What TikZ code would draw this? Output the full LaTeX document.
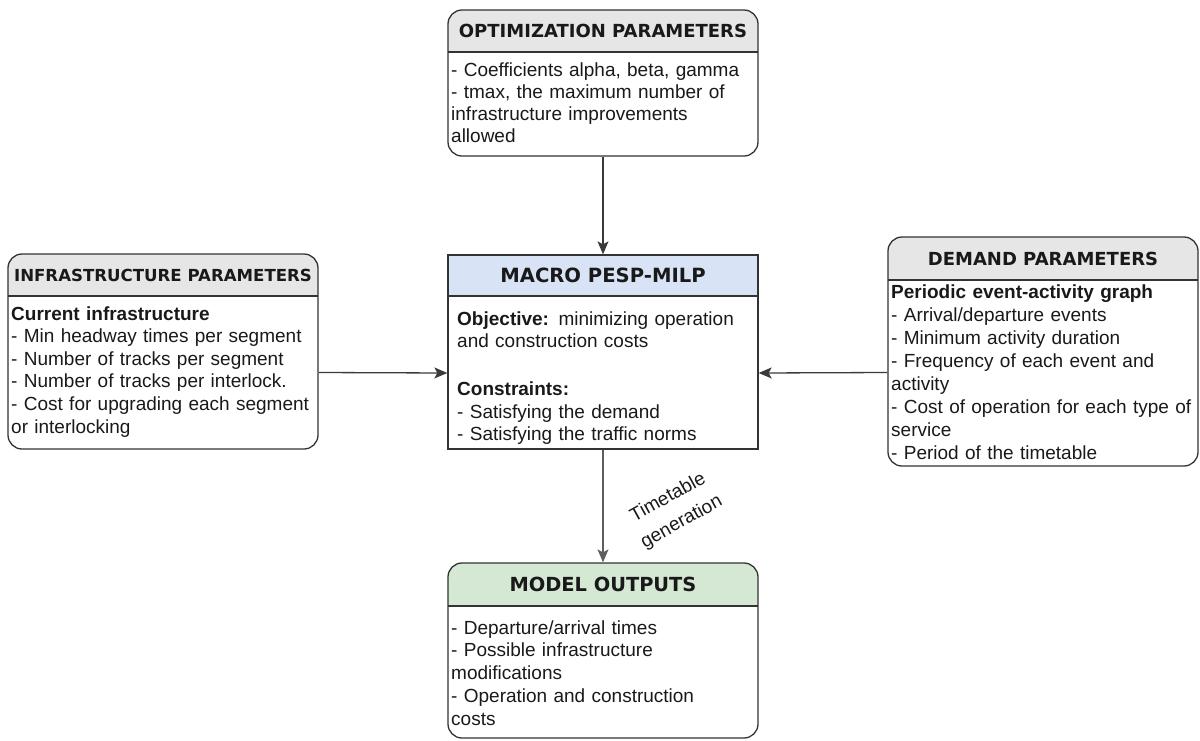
\documentclass[tikz,border=0pt]{standalone}
\usepackage{fontspec}
\setmainfont{Liberation Sans}
\newfontfamily\headfont{DejaVu Sans}
\usetikzlibrary{arrows.meta}
\definecolor{linec}{HTML}{333333}
\definecolor{arrc}{HTML}{3A3A3A}
\definecolor{arrlow}{HTML}{5E5E5E}
\definecolor{hdrgray}{HTML}{E6E6E6}
\definecolor{hdrblue}{HTML}{D8E4F6}
\definecolor{hdrgreen}{HTML}{D5E8D4}
\begin{document}
\begin{tikzpicture}[x=1pt,y=-1pt,
  panel/.style={draw=linec, line width=1.3pt, rounded corners=14pt,
    minimum width=310pt, inner sep=0pt},
  flatpanel/.style={panel, sharp corners},
  sep/.style={draw=linec, line width=1.3pt},
  hdr/.style={font=\headfont\bfseries\fontsize{#1}{22}\selectfont,
    anchor=base, inner sep=0pt, text=black!90},
  hdr/.default=18,
  body/.style={font=\fontsize{19}{#1}\selectfont, anchor=base west,
    text width=330pt, align=left, inner sep=0pt, text=black!90},
  body/.default=22.4,
  arr/.style={draw=arrc, line width=1.3pt,
    -{Stealth[length=13pt,width=11pt,inset=3pt]}},
  lbl/.style={font=\fontsize{19}{28}\selectfont, align=center,
    inner sep=0pt, rotate=29, text=black!90}]
\useasboundingbox (0,0) rectangle (1200,740);

% header bands
\fill[hdrgray, rounded corners=14pt] (448,52) -- (448,10) -- (758,10) -- (758,52);
\fill[hdrgray, rounded corners=14pt] (8,296) -- (8,254) -- (318,254) -- (318,296);
\fill[hdrblue] (448,255) rectangle (758,296);
\fill[hdrgray, rounded corners=14pt] (888,280) -- (888,237) -- (1198,237) -- (1198,280);
\fill[hdrgreen, rounded corners=14pt] (448,606) -- (448,563) -- (758,563) -- (758,606);

% panels
\node[panel, minimum height=146pt] (opt) at (603,83) {};
\node[panel, minimum height=195pt] (infra) at (163,351.5) {};
\node[flatpanel, minimum height=194pt] (macro) at (603,352) {};
\node[panel, minimum height=229pt] (demand) at (1043,351.5) {};
\node[panel, minimum height=175pt] (out) at (603,650.5) {};

% header separators
\draw[sep] (448,52) -- (758,52);
\draw[sep] (8,296) -- (318,296);
\draw[sep] (448,296) -- (758,296);
\draw[sep] (888,280) -- (1198,280);
\draw[sep] (448,606) -- (758,606);

% titles
\node[hdr] (optT) at (603,37.5) {OPTIMIZATION PARAMETERS};
\node[hdr=16.6] (infraT) at (163,281) {INFRASTRUCTURE PARAMETERS};
\node[hdr=19.6] (macroT) at (603,282.5) {MACRO PESP-MILP};
\node[hdr] (demandT) at (1043,265.5) {DEMAND PARAMETERS};
\node[hdr=19.4] (outT) at (603,591.5) {MODEL OUTPUTS};

% contents
\node[body=22.3] (optB) at (451,76) {- Coefficients alpha, beta, gamma\\
- tmax, the maximum number of\\
infrastructure improvements\\
allowed};
\node[body=22.6] (infraB) at (11,320) {\textbf{Current infrastructure}\\
- Min headway times per segment\\
- Number of tracks per segment\\
- Number of tracks per interlock.\\
- Cost for upgrading each segment\\
or interlocking};
\node[body=22.4] (macroB) at (457,325) {\textbf{Objective:} minimizing operation\\
and construction costs\\[26pt]
\textbf{Constraints:}\\
- Satisfying the demand\\
- Satisfying the traffic norms};
\node[body=23] (demandB) at (891,298) {\textbf{Periodic event-activity graph}\\
- Arrival/departure events\\
- Minimum activity duration\\
- Frequency of each event and\\
activity\\
- Cost of operation for each type of\\
service\\
- Period of the timetable};
\node[body=22.8] (outB) at (451,634) {- Departure/arrival times\\
- Possible infrastructure\\
modifications\\
- Operation and construction\\
costs};

% connectors
\draw[arr] (opt) -- (macro);
\draw[arr] ([yshift=-21pt]infra.east) -- ([yshift=-21pt]macro.west);
\draw[arr] ([yshift=-21pt]demand.west) -- ([yshift=-21pt]macro.east);
\draw[arr, draw=arrlow] (macro) -- (out);
\node[lbl] (gen) at (675,510) {Timetable\\generation};
\end{tikzpicture}
\end{document}
